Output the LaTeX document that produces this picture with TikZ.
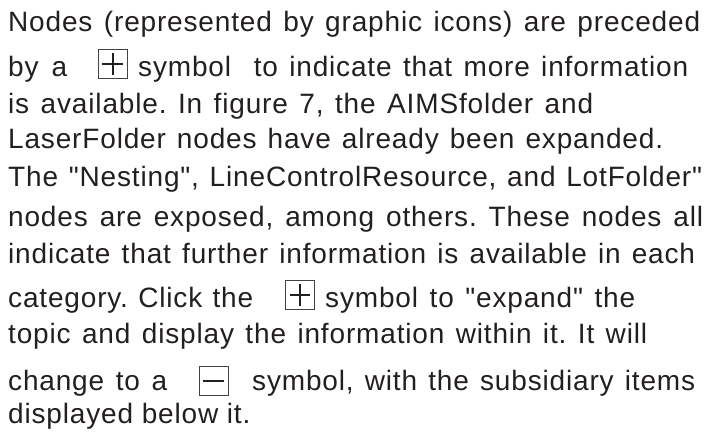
\documentclass[tikz,border=0pt]{standalone}
\usepackage{fontspec}
\usepackage{tikz}
\newfontfamily\bodyfont[LetterSpace=3]{Liberation Sans}
\definecolor{ink}{HTML}{231F20}
\newcommand{\fillline}[2]{\makebox[#1][s]{#2}}
\frenchspacing
\tikzset{
    txt/.style={anchor=base west, inner sep=0pt, text=ink, font=\fontsize{28}{32}\bodyfont},
    expbox/.style={draw=ink!85, line width=0.9pt, minimum size=29pt, inner sep=0pt},
    sign/.style={draw=ink, line width=2pt},
    minus/.style={draw=ink, line width=2.8pt}
}

\begin{document}
\begin{tikzpicture}[x=1pt, y=-1pt]
    \useasboundingbox (0,0) rectangle (705,433);

    % Text lines
    \node[txt] (l1) at (8,32) {\fillline{692pt}{Nodes (represented by graphic icons) are preceded}};
    \node[txt] (l2a) at (8,77) {\fillline{59pt}{by a}};
    \node[txt] (l2b) at (138,77) {\fillline{550pt}{symbol\ \ to indicate that more information}};
    \node[txt] (l3) at (8,114) {\fillline{585pt}{is available. In figure 7, the AIMSfolder and}};
    \node[txt] (l4) at (8,149) {\fillline{655pt}{LaserFolder nodes have already been expanded.}};
    \node[txt] (l5) at (8,187) {\fillline{694pt}{The "Nesting", LineControlResource, and LotFolder"}};
    \node[txt] (l6) at (8,226) {\fillline{695pt}{nodes are exposed, among others. These nodes all}};
    \node[txt] (l7) at (8,263) {\fillline{687pt}{indicate that further information is available in each}};
    \node[txt] (l8a) at (8,308) {\fillline{245pt}{category. Click the}};
    \node[txt] (l8b) at (325,308) {\fillline{310pt}{symbol to "expand" the}};
    \node[txt] (l9) at (8,343) {\fillline{639pt}{topic and display the information within it. It will}};
    \node[txt] (l10a) at (8,390) {\fillline{159pt}{change to a}};
    \node[txt] (l10b) at (252,390) {\fillline{443pt}{symbol, with the subsidiary items}};
    \node[txt] (l11) at (8,423) {displayed below it.};

    % Expand / collapse symbols
    \node[expbox] (plusA) at (112.5,64) {};
    \node[expbox] (plusB) at (300,295) {};
    \node[expbox] (minusC) at (213.5,381) {};

    \draw[sign] ([xshift=4.5pt]plusA.west) -- ([xshift=-4.5pt]plusA.east);
    \draw[sign] ([yshift=-4pt]plusA.north) -- ([yshift=4pt]plusA.south);
    \draw[sign] ([xshift=4.5pt]plusB.west) -- ([xshift=-4.5pt]plusB.east);
    \draw[sign] ([yshift=-4pt]plusB.north) -- ([yshift=4pt]plusB.south);
    \draw[minus] ([xshift=4.5pt]minusC.west) -- ([xshift=-4.5pt]minusC.east);
\end{tikzpicture}
\end{document}
